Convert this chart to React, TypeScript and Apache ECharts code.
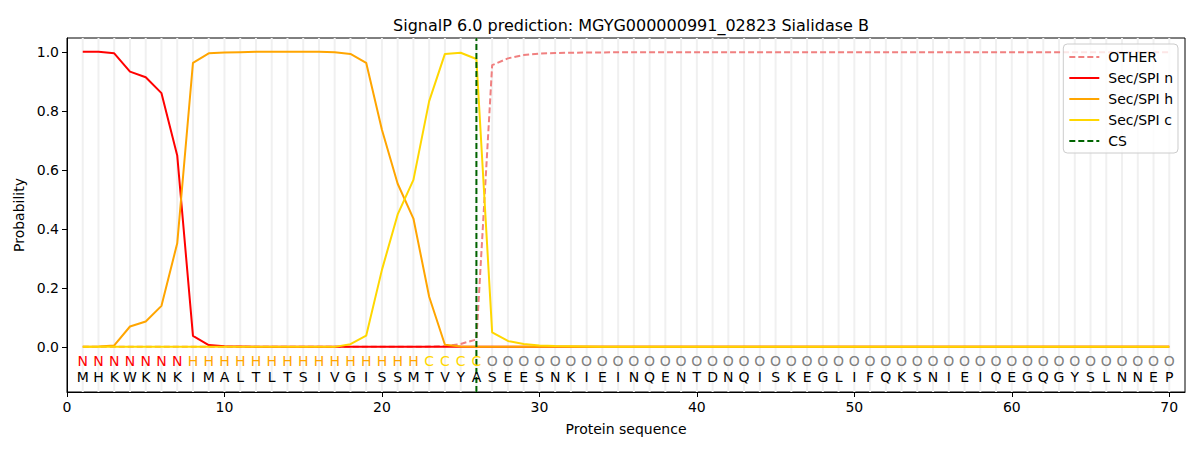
import React, { useEffect, useRef } from "react";
import * as echarts from "echarts";

const sequence = "MHKWKNKIMALTLTSIVGISSMTVYASEESNKIEINQENTDNQISKEGLIFQKSNIEIQEGQGYSLNNEP".split("");
const regionLabels = [
  "N","N","N","N","N","N","N",
  "H","H","H","H","H","H","H","H","H","H","H","H","H","H","H",
  "C","C","C","C",
  "O","O","O","O","O","O","O","O","O","O","O","O","O","O","O","O","O","O","O","O","O","O",
  "O","O","O","O","O","O","O","O","O","O","O","O","O","O","O","O","O","O","O","O","O","O",
];
const positions = [
  1,2,3,4,5,6,7,8,9,10,11,12,13,14,15,16,17,18,19,20,21,22,23,24,25,26,27,28,29,30,
  31,32,33,34,35,36,37,38,39,40,41,42,43,44,45,46,47,48,49,50,51,52,53,54,55,56,57,58,59,60,
  61,62,63,64,65,66,67,68,69,70,
];
const otherVals = [
  0,0,0,0,0,0,0,0,0,0, 0,0,0,0,0,0,0,0,0,0, 0,0,0.001,0.002,0.01,0.025,0.955,0.978,0.989,0.994,
  0.996,0.997,0.998,0.998,0.999,0.999,0.999,0.999,0.999,0.999, 0.999,0.999,0.999,0.999,0.999,0.999,0.999,0.999,0.999,0.999,
  0.999,0.999,0.999,0.999,0.999,0.999,0.999,0.999,0.999,0.999, 0.999,0.999,0.999,0.999,0.999,0.999,0.999,0.999,0.999,0.999,
];
const secN = [
  1.0,1.0,0.995,0.933,0.914,0.86,0.649,0.037,0.006,0.002, 0.001,0,0,0,0,0,0,0,0,0, 0,0,0,0,0,0,0,0,0,0,
  0,0,0,0,0,0,0,0,0,0, 0,0,0,0,0,0,0,0,0,0, 0,0,0,0,0,0,0,0,0,0, 0,0,0,0,0,0,0,0,0,0,
];
const secH = [
  0,0.001,0.005,0.069,0.086,0.139,0.351,0.963,0.995,0.998, 0.999,1.0,1.0,1.0,1.0,1.0,0.999,0.993,0.963,0.736,
  0.553,0.435,0.17,0.007,0.001,0,0,0,0,0,
  0,0,0,0,0,0,0,0,0,0, 0,0,0,0,0,0,0,0,0,0, 0,0,0,0,0,0,0,0,0,0, 0,0,0,0,0,0,0,0,0,0,
];
const secC = [
  0,0,0,0,0,0,0,0,0,0, 0,0,0,0,0,0,0,0.009,0.038,0.261,
  0.449,0.566,0.833,0.993,0.997,0.976,0.049,0.02,0.01,0.005,
  0.003,0.002,0.001,0,0,0,0,0,0,0, 0,0,0,0,0,0,0,0,0,0, 0,0,0,0,0,0,0,0,0,0, 0,0,0,0,0,0,0,0,0,0,
];
const csPosition = 26;
const xTicks = [0, 10, 20, 30, 40, 50, 60, 70];
const yTicks = [0, 0.2, 0.4, 0.6, 0.8, 1.0];

const Y_MIN = -0.153;
const Y_MAX = 1.047;
const FONT = "DejaVu Sans";
const labelColors: Record<string, string> = { N: "#ff0000", H: "#ffa500", C: "#ffd700", O: "#808080" };

export default function App() {
  const ref = useRef<HTMLDivElement>(null);
  useEffect(() => {
    if (!ref.current) return;
    const chart = echarts.init(ref.current, undefined, { renderer: "svg" });
    const toPairs = (vals: number[]) => positions.map((p, i) => [p, vals[i]]);
    chart.setOption({
      animation: false,
      backgroundColor: "#ffffff",
      textStyle: { fontFamily: FONT },
      title: {
        text: "SignalP 6.0 prediction: MGYG000000991_02823 Sialidase B",
        left: 626,
        top: 12,
        textAlign: "center",
        textStyle: { fontFamily: FONT, fontSize: 16, fontWeight: "normal", color: "#000" },
      },
      grid: {
        left: 67, right: 15, top: 38, bottom: 58,
        show: true, borderColor: "#000", borderWidth: 1, backgroundColor: "transparent",
      },
      legend: {
        orient: "vertical",
        right: 22,
        top: 44,
        itemWidth: 30,
        itemHeight: 14,
        itemGap: 7,
        padding: [6, 5, 5, 5],
        borderColor: "#cccccc",
        borderWidth: 1,
        borderRadius: 4,
        backgroundColor: "rgba(255,255,255,0.8)",
        itemStyle: { opacity: 0 },
        textStyle: { fontFamily: FONT, fontSize: 14, color: "#000", padding: [0, 0, 0, 4] },
        data: ["OTHER", "Sec/SPI n", "Sec/SPI h", "Sec/SPI c", "CS"],
      },
      xAxis: {
        type: "value",
        min: 0,
        max: 71,
        name: "Protein sequence",
        nameLocation: "middle",
        nameGap: 30,
        nameTextStyle: { fontFamily: FONT, fontSize: 14, color: "#000" },
        axisLine: { show: true, onZero: false, lineStyle: { color: "#000", width: 1 } },
        axisTick: { show: true, length: 5, lineStyle: { color: "#000" }, customValues: xTicks },
        axisLabel: { fontFamily: FONT, fontSize: 14, color: "#000", margin: 8, customValues: xTicks },
        splitLine: { show: false },
      },
      yAxis: {
        type: "value",
        min: Y_MIN,
        max: Y_MAX,
        name: "Probability",
        nameLocation: "middle",
        nameGap: 40,
        nameTextStyle: { fontFamily: FONT, fontSize: 14, color: "#000" },
        axisLine: { show: true, onZero: false, lineStyle: { color: "#000", width: 1 } },
        axisTick: { show: true, length: 5, lineStyle: { color: "#000" }, customValues: yTicks },
        axisLabel: {
          fontFamily: FONT, fontSize: 14, color: "#000", margin: 8, customValues: yTicks,
          formatter: (v: number) => v.toFixed(1),
        },
        splitLine: { show: false },
      },
      series: [
        {
          type: "custom",
          name: "positionGrid",
          silent: true,
          z: 0,
          data: positions.map((p) => [p, 0]),
          renderItem: (params: any, api: any) => {
            const x = api.value(0);
            const a = api.coord([x, Y_MIN]);
            const b = api.coord([x, Y_MAX]);
            return {
              type: "line",
              shape: { x1: a[0], y1: a[1], x2: b[0], y2: b[1] },
              style: { stroke: "#f0f0f0", lineWidth: 2 },
            };
          },
        },
        {
          type: "line",
          name: "OTHER",
          data: toPairs(otherVals),
          symbol: "none",
          z: 3,
          color: "#f08080",
          lineStyle: { color: "#f08080", width: 2, type: [6, 3] },
        },
        {
          type: "line",
          name: "Sec/SPI n",
          data: toPairs(secN),
          symbol: "none",
          z: 4,
          color: "#ff0000",
          lineStyle: { color: "#ff0000", width: 2 },
        },
        {
          type: "line",
          name: "Sec/SPI h",
          data: toPairs(secH),
          symbol: "none",
          z: 5,
          color: "#ffa500",
          lineStyle: { color: "#ffa500", width: 2 },
        },
        {
          type: "line",
          name: "Sec/SPI c",
          data: toPairs(secC),
          symbol: "none",
          z: 6,
          color: "#ffd700",
          lineStyle: { color: "#ffd700", width: 2 },
        },
        {
          type: "line",
          name: "CS",
          data: [[csPosition, Y_MIN], [csPosition, Y_MAX]],
          symbol: "none",
          z: 7,
          color: "#006400",
          lineStyle: { color: "#006400", width: 2, type: [6, 3] },
        },
        {
          type: "custom",
          name: "labels",
          silent: true,
          z: 8,
          data: positions.map((p) => [p, 0]),
          renderItem: (params: any, api: any) => {
            const x = api.value(0);
            const i = params.dataIndex;
            const p1 = api.coord([x, -0.047]);
            const p2 = api.coord([x, -0.102]);
            return {
              type: "group",
              children: [
                {
                  type: "text",
                  x: p1[0],
                  y: p1[1],
                  style: {
                    text: regionLabels[i],
                    fill: labelColors[regionLabels[i]],
                    fontFamily: FONT,
                    fontSize: 14,
                    align: "center",
                    verticalAlign: "middle",
                  },
                },
                {
                  type: "text",
                  x: p2[0],
                  y: p2[1],
                  style: {
                    text: sequence[i],
                    fill: "#000",
                    fontFamily: FONT,
                    fontSize: 14,
                    align: "center",
                    verticalAlign: "middle",
                  },
                },
              ],
            };
          },
        },
      ],
    });
    return () => chart.dispose();
  }, []);
  return (
    <div
      ref={ref}
      style={{ position: "fixed", left: 0, top: 0, width: 1200, height: 450, background: "#fff" }}
    />
  );
}
